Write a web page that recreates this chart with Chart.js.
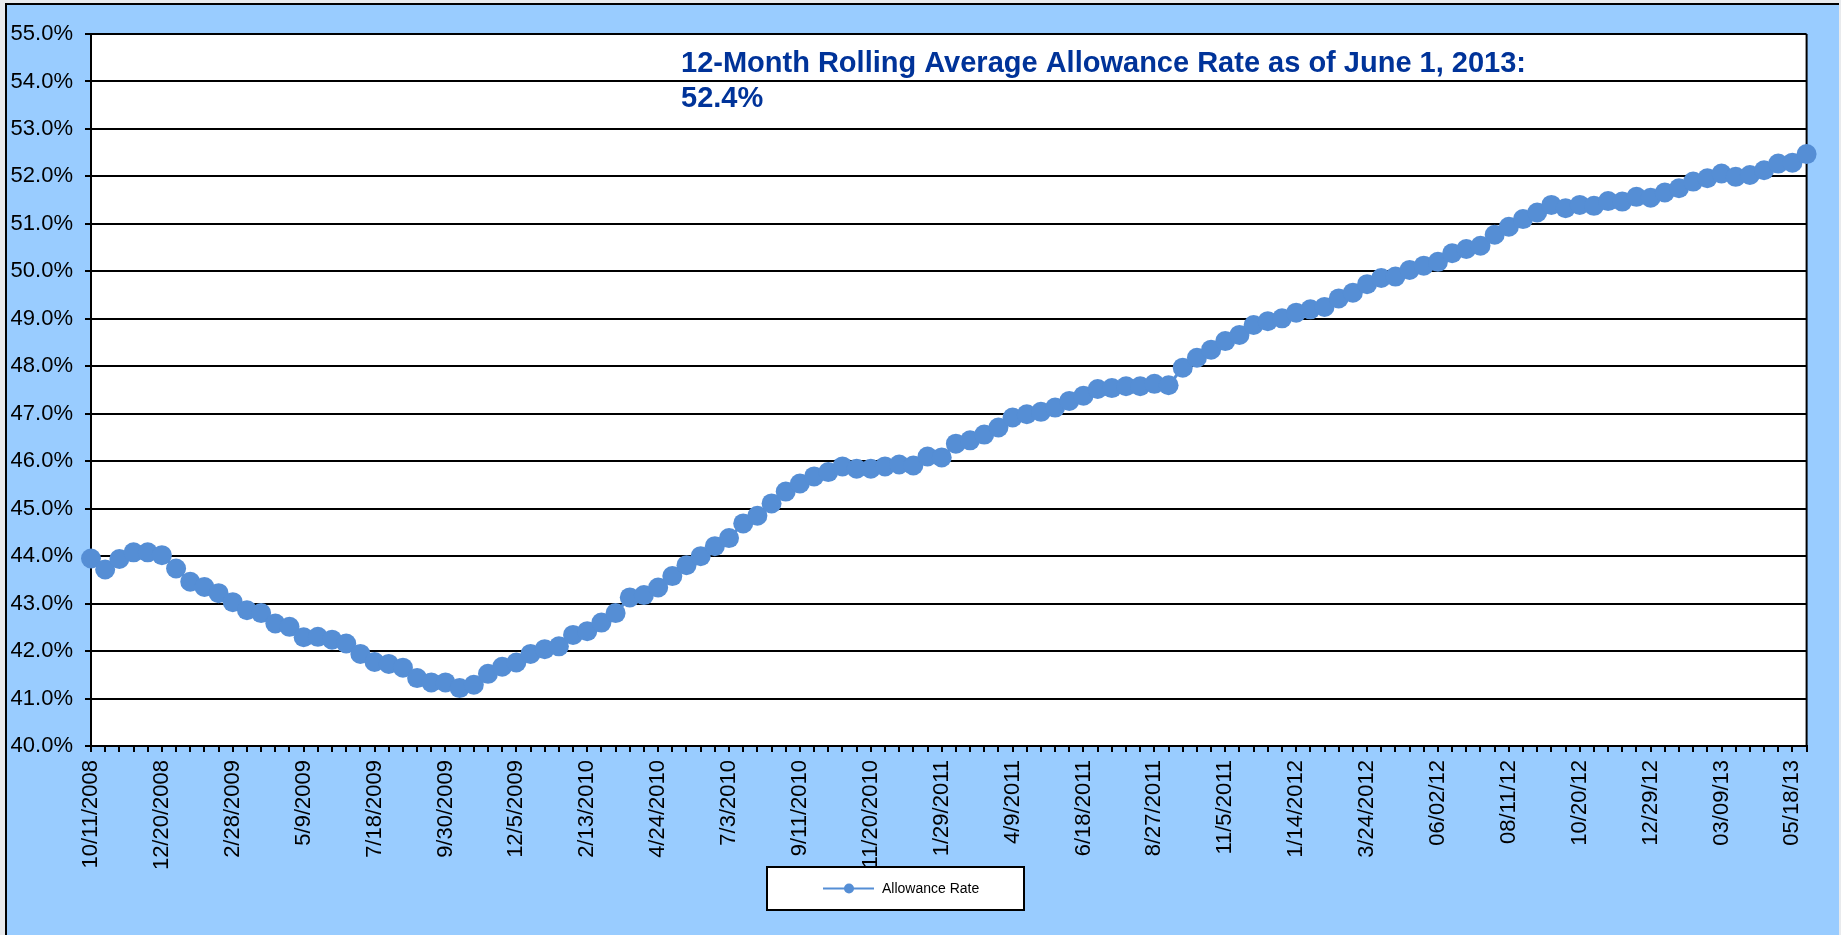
<!DOCTYPE html>
<html>
<head>
<meta charset="utf-8">
<script src="https://cdn.jsdelivr.net/npm/chart.js@4.4.1/dist/chart.umd.min.js"></script>
<style>
html,body{margin:0;padding:0;overflow:hidden;background:#e8eaed;}
canvas{display:block;}
</style>
</head>
<body>
<canvas id="c" width="1841" height="935"></canvas>
<script>
// ---- data ----
const seriesName = 'Allowance Rate';
const tickLabels = ['10/11/2008','12/20/2008','2/28/2009','5/9/2009','7/18/2009','9/30/2009','12/5/2009','2/13/2010','4/24/2010','7/3/2010','9/11/2010','11/20/2010','1/29/2011','4/9/2011','6/18/2011','8/27/2011','11/5/2011','1/14/2012','3/24/2012','06/02/12','08/11/12','10/20/12','12/29/12','03/09/13','05/18/13'];
const labelEvery = 5;
const allowanceRate = [
  43.95, 43.72, 43.94, 44.08, 44.08, 44.02, 43.74, 43.46, 43.35, 43.22,
  43.03, 42.86, 42.80, 42.58, 42.51, 42.29, 42.30, 42.24, 42.16, 41.94,
  41.77, 41.73, 41.65, 41.43, 41.34, 41.34, 41.22, 41.29, 41.52, 41.67,
  41.76, 41.94, 42.04, 42.10, 42.34, 42.42, 42.60, 42.80, 43.13, 43.18,
  43.34, 43.58, 43.81, 44.00, 44.21, 44.38, 44.69, 44.85, 45.11, 45.36,
  45.53, 45.68, 45.77, 45.89, 45.84, 45.84, 45.89, 45.93, 45.91, 46.10,
  46.08, 46.37, 46.44, 46.56, 46.71, 46.92, 46.99, 47.04, 47.13, 47.27,
  47.38, 47.52, 47.54, 47.58, 47.58, 47.63, 47.60, 47.97, 48.18, 48.35,
  48.53, 48.66, 48.87, 48.95, 49.01, 49.13, 49.20, 49.25, 49.43, 49.55,
  49.73, 49.86, 49.89, 50.03, 50.12, 50.20, 50.38, 50.47, 50.54, 50.77,
  50.94, 51.10, 51.24, 51.40, 51.33, 51.40, 51.38, 51.48, 51.47, 51.57,
  51.55, 51.66, 51.75, 51.89, 51.96, 52.06, 51.99, 52.03, 52.13, 52.27,
  52.29, 52.47
];
const titleLines = ['12-Month Rolling Average Allowance Rate as of June 1, 2013:', '52.4%'];
const yMin = 40, yMax = 55, yStep = 1;

// categories: every 5th point carries a visible date label
const categories = allowanceRate.map((_, i) => (i % labelEvery === 0 && tickLabels[i / labelEvery]) ? tickLabels[i / labelEvery] : '');

const FONT = "'Liberation Sans', Arial, Helvetica, sans-serif";
const LINE_COLOR = '#558ED5';

const framePlugin = {
  id: 'frame',
  beforeDraw(chart) {
    const ctx = chart.ctx;
    const a = chart.chartArea;
    ctx.save();
    ctx.fillStyle = '#e8eaed';
    ctx.fillRect(0, 0, chart.width, chart.height);
    ctx.fillStyle = '#99CCFF';
    ctx.fillRect(6, 4, 1833, 931);
    ctx.strokeStyle = '#000';
    ctx.lineWidth = 2;
    ctx.beginPath();
    ctx.moveTo(6, 935); ctx.lineTo(6, 4); ctx.lineTo(1839, 4);
    ctx.stroke();
    ctx.fillStyle = '#ffffff';
    ctx.fillRect(a.left, a.top, a.right - a.left, a.bottom - a.top);
    ctx.restore();
  },
  beforeDatasetsDraw(chart) {
    const ctx = chart.ctx;
    const a = chart.chartArea;
    ctx.save();
    ctx.strokeStyle = '#000';
    ctx.lineWidth = 2;
    ctx.beginPath();
    ctx.moveTo(a.right, a.top); ctx.lineTo(a.right, a.bottom);
    ctx.stroke();
    // annotation text
    ctx.fillStyle = '#003399';
    ctx.font = 'bold 29px ' + FONT;
    ctx.textBaseline = 'alphabetic';
    ctx.textAlign = 'left';
    ctx.fillText(titleLines[0], 681, 72);
    ctx.fillText(titleLines[1], 681, 107);
    ctx.restore();
  },
  afterDraw(chart) {
    const ctx = chart.ctx;
    ctx.save();
    // legend box
    const bx = 767, by = 867, bw = 257, bh = 43;
    ctx.fillStyle = '#fff';
    ctx.fillRect(bx, by, bw, bh);
    ctx.strokeStyle = '#000';
    ctx.lineWidth = 2;
    ctx.strokeRect(bx, by, bw, bh);
    const cy = by + bh / 2;
    ctx.strokeStyle = LINE_COLOR;
    ctx.lineWidth = 2;
    ctx.beginPath(); ctx.moveTo(823, cy); ctx.lineTo(874, cy); ctx.stroke();
    ctx.fillStyle = LINE_COLOR;
    ctx.beginPath(); ctx.arc(849, cy, 5, 0, Math.PI * 2); ctx.fill();
    ctx.fillStyle = '#000';
    ctx.font = '14px ' + FONT;
    ctx.textBaseline = 'middle';
    ctx.fillText(chart.data.datasets[0].label, 882, cy + 1);
    ctx.restore();
  }
};

new Chart(document.getElementById('c'), {
  type: 'line',
  data: {
    labels: categories,
    datasets: [{
      label: seriesName,
      data: allowanceRate,
      borderColor: LINE_COLOR,
      backgroundColor: LINE_COLOR,
      borderWidth: 3,
      pointRadius: 10,
      pointBorderWidth: 0,
      pointBackgroundColor: LINE_COLOR,
      pointBorderColor: LINE_COLOR,
      tension: 0,
      clip: false
    }]
  },
  options: {
    responsive: false,
    animation: false,
    devicePixelRatio: 1,
    layout: { padding: { left: 0, top: 34, right: 28, bottom: 0 } },
    plugins: {
      legend: { display: false },
      title: { display: false },
      tooltip: { enabled: false }
    },
    scales: {
      x: {
        type: 'category',
        offset: false,
        afterFit(scale) { scale.height = 189; },
        grid: { display: true, drawOnChartArea: false, drawTicks: true, tickLength: 6, color: '#000', lineWidth: 2 },
        border: { display: true, color: '#000', width: 2 },
        ticks: {
          autoSkip: false,
          maxRotation: 90,
          minRotation: 90,
          padding: 8,
          color: '#000',
          font: { family: FONT, size: 22 },
          callback: (v, i) => categories[i]
        }
      },
      y: {
        min: yMin,
        max: yMax,
        afterFit(scale) { scale.width = 91; },
        grid: { color: '#000', lineWidth: 2, tickLength: 6, drawTicks: true },
        border: { display: true, color: '#000', width: 2 },
        ticks: {
          stepSize: yStep,
          padding: 12,
          color: '#000',
          font: { family: FONT, size: 22 },
          callback: v => Number(v).toFixed(1) + '%'
        }
      }
    }
  },
  plugins: [framePlugin]
});
</script>
</body>
</html>
